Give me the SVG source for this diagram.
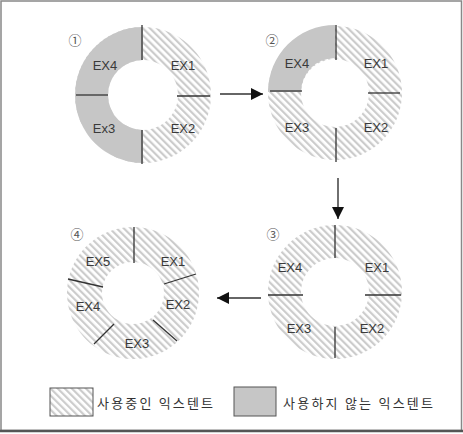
<svg xmlns="http://www.w3.org/2000/svg" width="463" height="434" viewBox="0 0 463 434">
<style>
.lbl{font-family:"Liberation Sans",Arial,sans-serif;font-size:13px;fill:#3a3a3a;text-anchor:middle}
.num{font-family:"Noto Sans CJK KR","DejaVu Sans",sans-serif;font-size:13px;fill:#555;text-anchor:middle}
.leg{font-family:"Noto Sans CJK KR",sans-serif;font-size:13px;fill:#333}
.sep{stroke:#333;stroke-width:1.3;fill:none}
.hatch{fill:url(#hatch);fill-rule:evenodd}
.used{fill:#c6c6c6}
.arr{stroke:#333;stroke-width:1.4;fill:none;marker-end:url(#ah)}
</style>
<defs>
<pattern id="hatch" patternUnits="userSpaceOnUse" width="5" height="5" patternTransform="rotate(-45)">
<rect width="5" height="5" fill="#fff"/>
<rect width="2.2" height="5" fill="#cccccc"/>
</pattern>
<marker id="ah" viewBox="0 0 10 10" refX="10" refY="5" markerWidth="12" markerHeight="12" markerUnits="userSpaceOnUse" orient="auto">
<path d="M0,0 L10,5 L0,10 Z" fill="#111"/>
</marker>
</defs>
<rect x="0" y="0" width="463" height="434" fill="#fff"/>
<rect x="1" y="1" width="460.5" height="429.5" fill="none" stroke="#888" stroke-width="1.5"/>
<line x1="0" y1="431" x2="463" y2="431" stroke="#555" stroke-width="2.5"/>

<g id="ring1">
<path class="hatch" d="M143,27 a68,68 0 1 0 0.01,0 Z M143,60 a35,35 0 1 0 0.01,0 Z"/>
<path class="used" d="M143,27 A68,68 0 0 0 143,163 L143,130 A35,35 0 0 1 143,60 Z"/>
<line class="sep" x1="142" y1="25" x2="142" y2="60"/>
<line class="sep" x1="142" y1="130" x2="142" y2="164"/>
<line class="sep" x1="76" y1="95" x2="108" y2="95"/>
<line class="sep" x1="177" y1="96" x2="210" y2="96"/>
<text class="num" x="75" y="45">①</text>
<text class="lbl" x="105" y="70">EX4</text>
<text class="lbl" x="183" y="70">EX1</text>
<text class="lbl" x="104" y="133">Ex3</text>
<text class="lbl" x="183" y="133">EX2</text>
</g>

<g id="ring2">
<path class="hatch" d="M335,26 a67,67 0 1 0 0.01,0 Z M335,59 a34,34 0 1 0 0.01,0 Z"/>
<path class="used" d="M268,92 A67,67 0 0 1 335,25 L335,58 A34,34 0 0 0 301,92 Z"/>
<line class="sep" x1="336" y1="25" x2="336" y2="60"/>
<line class="sep" x1="336" y1="128" x2="336" y2="162"/>
<line class="sep" x1="270" y1="91" x2="302" y2="91"/>
<line class="sep" x1="368" y1="93" x2="400" y2="93"/>
<text class="num" x="272" y="45">②</text>
<text class="lbl" x="297" y="68">EX4</text>
<text class="lbl" x="376" y="68">EX1</text>
<text class="lbl" x="297" y="132">EX3</text>
<text class="lbl" x="376" y="132">EX2</text>
</g>

<g id="ring3">
<path class="hatch" d="M335,225 a67,67 0 1 0 0.01,0 Z M335,258 a34,34 0 1 0 0.01,0 Z"/>
<line class="sep" x1="335" y1="225" x2="335" y2="258"/>
<line class="sep" x1="335" y1="327" x2="335" y2="358"/>
<line class="sep" x1="268" y1="295" x2="303" y2="295"/>
<line class="sep" x1="365" y1="295" x2="401" y2="295"/>
<text class="num" x="273" y="239">③</text>
<text class="lbl" x="290" y="272">EX4</text>
<text class="lbl" x="377" y="272">EX1</text>
<text class="lbl" x="299" y="333">EX3</text>
<text class="lbl" x="372" y="333">EX2</text>
</g>

<g id="ring4">
<path class="hatch" d="M133,227 a66,66 0 1 0 0.01,0 Z M133,262 a31,31 0 1 0 0.01,0 Z"/>
<line class="sep" x1="134" y1="227" x2="134" y2="263"/>
<line class="sep" x1="164" y1="284" x2="196" y2="274"/>
<line class="sep" x1="153" y1="320" x2="177" y2="341"/>
<line class="sep" x1="114" y1="324" x2="94" y2="344"/>
<line class="sep" x1="103" y1="287" x2="68" y2="279"/>
<text class="num" x="77" y="239">④</text>
<text class="lbl" x="98" y="266">EX5</text>
<text class="lbl" x="173" y="266">EX1</text>
<text class="lbl" x="88" y="311">EX4</text>
<text class="lbl" x="178" y="309">EX2</text>
<text class="lbl" x="137" y="348">EX3</text>
</g>

<g id="connectors">
<line class="arr" x1="220" y1="94" x2="263" y2="94"/>
<line class="arr" x1="338" y1="178" x2="338" y2="219"/>
<line class="arr" x1="261" y1="298" x2="217" y2="298"/>
</g>

<g id="legend">
<rect x="50" y="388" width="43" height="28" fill="url(#hatch)" stroke="#555" stroke-width="1"/>
<text class="leg" x="97" y="408" textLength="116" lengthAdjust="spacing">사용중인 익스텐트</text>
<rect x="234" y="387" width="42" height="29" fill="#c6c6c6" stroke="#555" stroke-width="1"/>
<text class="leg" x="283" y="408" textLength="150" lengthAdjust="spacing">사용하지 않는 익스텐트</text>
</g>
</svg>
